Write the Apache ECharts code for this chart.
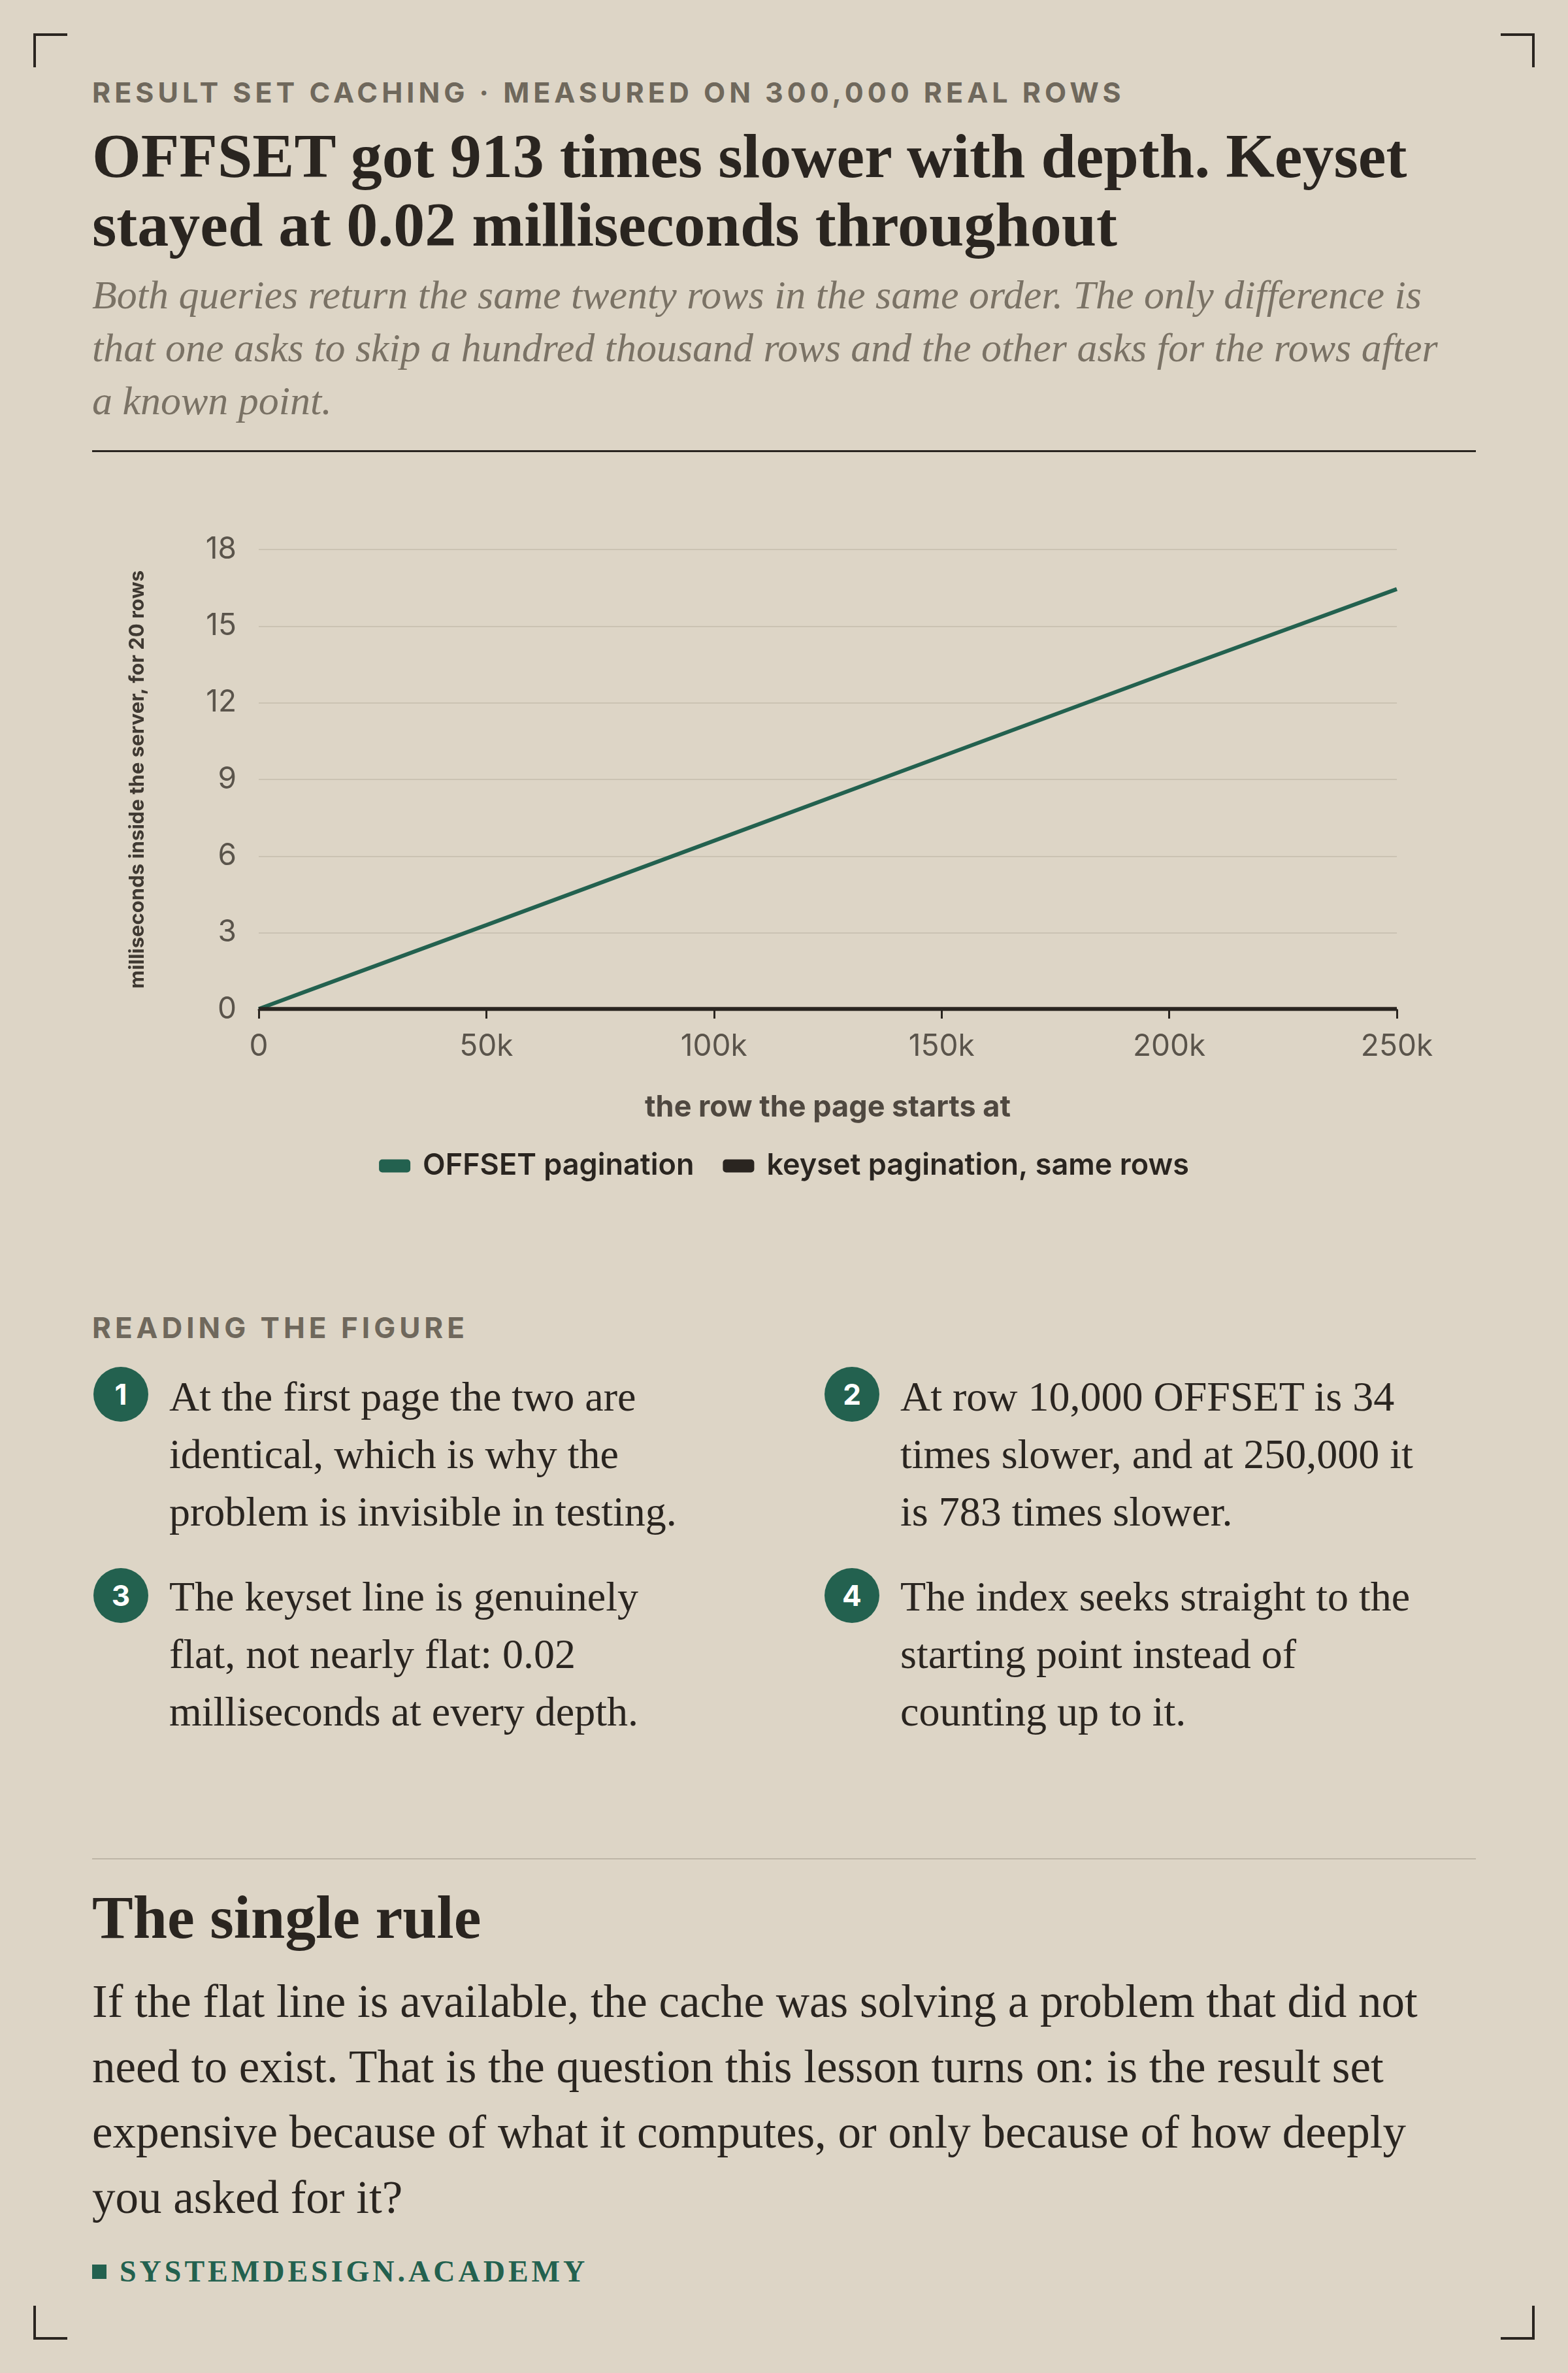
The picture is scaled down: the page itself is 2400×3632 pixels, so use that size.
<!DOCTYPE html>
<html><head><meta charset="utf-8">
<script src="https://cdn.jsdelivr.net/npm/echarts@6/dist/echarts.min.js"></script>
<style>
html,body{margin:0;padding:0;background:#ddd5c6;}
body{width:2400px;height:3632px;position:relative;overflow:hidden;color:#2a2520;}
.a{position:absolute;}
.corner{position:absolute;width:48px;height:48px;border-color:#2a2520;border-style:solid;border-width:0;}
.serif{font-family:"Liberation Serif","DejaVu Serif",serif;}
.sans{font-family:Inter,"Noto Sans",sans-serif;}
.kick{font-weight:700;letter-spacing:6px;color:#6f685c;}
.num{position:absolute;width:84px;height:84px;border-radius:50%;background:#23614f;color:#fff;font-family:Inter,sans-serif;font-weight:700;font-size:44px;line-height:84px;text-align:center;}
.item{position:absolute;font-size:64px;line-height:88px;width:900px;white-space:nowrap;}
</style></head><body>
<div class="corner" style="left:51px;top:51px;border-left-width:4px;border-top-width:4px"></div>
<div class="corner" style="right:51px;top:51px;border-right-width:4px;border-top-width:4px"></div>
<div class="corner" style="left:51px;bottom:51px;border-left-width:4px;border-bottom-width:4px"></div>
<div class="corner" style="right:51px;bottom:51px;border-right-width:4px;border-bottom-width:4px"></div>

<div class="a sans kick" style="left:141px;top:115px;font-size:43px;">RESULT SET CACHING · MEASURED ON 300,000 REAL ROWS</div>
<div class="a serif" style="left:141px;top:186px;width:2200px;font-size:96px;font-weight:700;line-height:105px;">OFFSET got 913 times slower with depth. Keyset<br>stayed at 0.02 milliseconds throughout</div>
<div class="a serif" style="left:141px;top:411px;width:2200px;font-size:62px;font-style:italic;line-height:81px;color:#7a7265;white-space:nowrap;">Both queries return the same twenty rows in the same order. The only difference is<br>that one asks to skip a hundred thousand rows and the other asks for the rows after<br>a known point.</div>
<div class="a" style="left:141px;top:689px;width:2118px;height:3px;background:#2a2520;"></div>

<div id="chart" class="a" style="left:0;top:700px;width:2400px;height:1200px;"></div>

<div class="a sans kick" style="left:141px;top:2005px;font-size:44px;">READING THE FIGURE</div>
<div class="num" style="left:143px;top:2092px;">1</div>
<div class="item serif" style="left:259px;top:2094px;">At the first page the two are<br>identical, which is why the<br>problem is invisible in testing.</div>
<div class="num" style="left:1262px;top:2092px;">2</div>
<div class="item serif" style="left:1378px;top:2094px;">At row 10,000 OFFSET is 34<br>times slower, and at 250,000 it<br>is 783 times slower.</div>
<div class="num" style="left:143px;top:2400px;">3</div>
<div class="item serif" style="left:259px;top:2400px;">The keyset line is genuinely<br>flat, not nearly flat: 0.02<br>milliseconds at every depth.</div>
<div class="num" style="left:1262px;top:2400px;">4</div>
<div class="item serif" style="left:1378px;top:2400px;">The index seeks straight to the<br>starting point instead of<br>counting up to it.</div>

<div class="a" style="left:141px;top:2844px;width:2118px;height:2px;background:#bdb5a6;"></div>
<div class="a serif" style="left:141px;top:2880px;font-size:94px;font-weight:700;">The single rule</div>
<div class="a serif" style="left:141px;top:3013px;width:2200px;font-size:71px;line-height:100px;white-space:nowrap;">If the flat line is available, the cache was solving a problem that did not<br>need to exist. That is the question this lesson turns on: is the result set<br>expensive because of what it computes, or only because of how deeply<br>you asked for it?</div>
<div class="a" style="left:141px;top:3466px;width:22px;height:22px;background:#23614f;"></div>
<div class="a serif" style="left:183px;top:3450px;font-size:46px;font-weight:700;letter-spacing:5px;color:#23614f;">SYSTEMDESIGN.ACADEMY</div>

<script>
const rowsStart = [0, 10000, 50000, 100000, 150000, 200000, 250000];
const offsetMs  = [0.02, 0.68, 3.3, 6.6, 9.9, 13.2, 16.45];
const keysetMs  = [0.02, 0.02, 0.02, 0.02, 0.02, 0.02, 0.02];
const yTicks = [0, 3, 6, 9, 12, 15, 18];
const seriesNames = ['OFFSET pagination', 'keyset pagination, same rows'];

const ch = echarts.init(document.getElementById('chart'));
const font = 'Inter, "Noto Sans", sans-serif';
ch.setOption({
  animation:false,
  grid:{left:396,right:262,top:141,height:704},
  xAxis:{type:'value',min:0,max:250000,interval:50000,
    name:'the row the page starts at',nameLocation:'middle',nameGap:128,
    nameTextStyle:{fontFamily:font,fontSize:45,fontWeight:700,color:'#4f4840'},
    axisLine:{lineStyle:{color:'#2a2520',width:3}},
    axisTick:{show:true,length:14,lineStyle:{color:'#2a2520',width:3}},
    splitLine:{show:false},
    axisLabel:{fontFamily:font,fontSize:46,color:'#5a544b',margin:34,
      formatter:v=>v===0?'0':(v/1000)+'k'}},
  yAxis:{type:'value',min:0,max:18,interval:3,
    name:'milliseconds inside the server, for 20 rows',nameLocation:'middle',nameGap:170,nameRotate:90,
    nameTextStyle:{fontFamily:font,fontSize:31,fontWeight:700,color:'#3f3932'},
    axisLine:{show:false},axisTick:{show:false},
    splitLine:{lineStyle:{color:'#cbc3b3',width:2}},
    axisLabel:{fontFamily:font,fontSize:46,color:'#5a544b',margin:34,
      formatter:v=>yTicks.includes(v)?String(v):''}},
  legend:{bottom:88,left:'center',itemWidth:48,itemHeight:20,itemGap:44,
    icon:'roundRect',
    textStyle:{fontFamily:font,fontSize:45,fontWeight:600,color:'#2a2520',padding:[0,0,0,14]},
    data:seriesNames},
  series:[
    {name:seriesNames[0],type:'line',data:rowsStart.map((x,i)=>[x,offsetMs[i]]),
     showSymbol:false,lineStyle:{color:'#23614f',width:6},itemStyle:{color:'#23614f'},z:3},
    {name:seriesNames[1],type:'line',data:rowsStart.map((x,i)=>[x,keysetMs[i]]),
     showSymbol:false,lineStyle:{color:'#2a2520',width:6},itemStyle:{color:'#2a2520'},z:4}
  ]
});
</script>
</body></html>
